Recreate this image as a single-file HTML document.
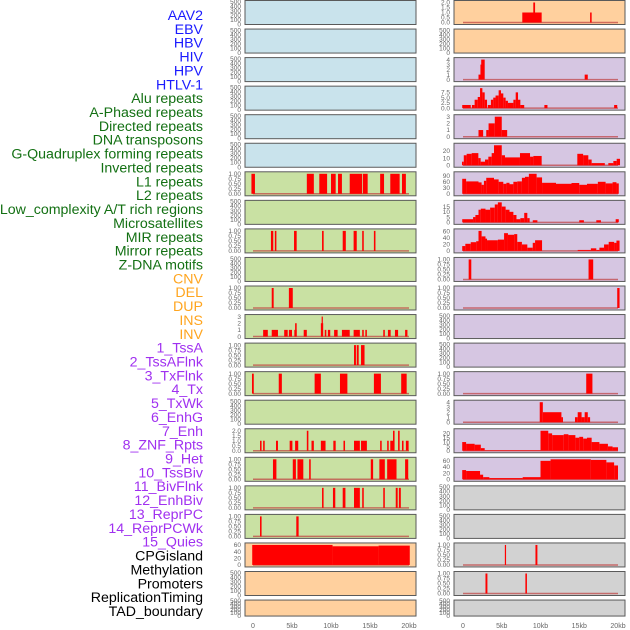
<!DOCTYPE html>
<html><head><meta charset="utf-8">
<style>
html,body{margin:0;padding:0;background:#fff;width:630px;height:630px;overflow:hidden}
svg{display:block}
</style></head>
<body>
<svg id="chart" width="630" height="630" xmlns="http://www.w3.org/2000/svg" font-family="Liberation Sans, sans-serif"></svg>
<script>
const trackLabels = ["AAV2","EBV","HBV","HIV","HPV","HTLV-1","Alu repeats","A-Phased repeats","Directed repeats","DNA transposons","G-Quadruplex forming repeats","Inverted repeats","L1 repeats","L2 repeats","Low_complexity A/T rich regions","Microsatellites","MIR repeats","Mirror repeats","Z-DNA motifs","CNV","DEL","DUP","INS","INV","1_TssA","2_TssAFlnk","3_TxFlnk","4_Tx","5_TxWk","6_EnhG","7_Enh","8_ZNF_Rpts","9_Het","10_TssBiv","11_BivFlnk","12_EnhBiv","13_ReprPC","14_ReprPCWk","15_Quies","CPGisland","Methylation","Promoters","ReplicationTiming","TAD_boundary"];
const labelGroups = [6,13,5,15,5];
const groupColors = ["#1a1aff","#137013","#ffa51f","#a030f0","#000000"];
const xTickValues = [0,5,10,15,20];
const xTickLabels = ["0","5kb","10kb","15kb","20kb"];

// segments: [startKb, endKb, value]
const leftL1 = [[-0.2,0.25,1],[6.9,7.8,1],[8.5,9.5,1],[10,10.6,1],[10.9,11.4,1],[12.4,14,1],[14.1,14.7,1],[16.3,16.8,1],[17.6,18.8,1],[19.1,19.6,1]];
const leftMIR = [[2.3,2.6,1],[2.8,3.0,1],[5.26,5.6,1],[8.85,9.06,1],[11.5,11.9,1],[12.9,13.3,1],[14,14.2,1],[15.5,15.7,1]];
const leftZDNA = [[2.4,2.65,1],[4.6,5.1,1]];
const leftDEL = [[1.3,1.9,1],[2.4,3.2,1],[4,4.45,1],[4.6,5,1],[5.3,5.6,1],[5.4,5.6,2],[6.5,6.9,1],[8.7,9.0,2],[8.8,8.9,3],[9.2,9.4,1],[9.6,9.9,1],[10.4,10.85,1],[11.4,12.4,1],[12.9,13.7,1],[14,14.2,1],[14.4,14.6,1],[16.7,16.9,1],[17.3,17.65,1],[18.2,18.6,1],[19.5,19.8,1]];
const leftINS = [[12.95,13.2,1],[13.3,13.55,1],[13.85,14.3,1]];
const leftINV = [[-0.13,0.1,1],[3.3,3.7,1],[7.9,8.7,1],[11.15,12.1,1],[15.5,16.4,1],[19,19.7,1]];
const leftTxFlnk = [[0.9,1.1,1],[1.3,1.5,1],[2.95,3.2,1],[4.7,5.05,1],[5.4,5.8,1],[6.9,7.1,2],[7.5,7.8,1],[8.7,9.3,1],[10.3,10.6,1],[11.6,11.8,1],[12.95,13.7,1],[13.85,14.6,1],[16.3,16.5,1],[17.2,17.4,1],[17.6,18.1,1],[17.95,18.15,2],[18.6,18.8,2],[19.1,19.3,1],[19.6,19.95,1]];
const leftTx = [[2.56,3.0,1],[5.1,5.5,1],[5.7,6.45,1],[7.2,7.4,1],[15.1,15.4,1],[16.2,16.9,1],[17.2,18.4,1],[19.5,19.9,1]];
const leftTxWk = [[8.85,9.05,1],[10.25,10.55,1],[11.5,11.85,1],[12.95,13.7,1],[14,14.2,1],[16.7,16.9,1],[18.3,18.55,1],[18.7,18.95,1]];
const leftEnhG = [[0.9,1.1,1],[5.55,5.85,1]];
const leftCPG = [[-0.1,10.2,60],[10.2,16.1,56],[16.1,20.1,58]];

const rightAAV2 = [[7.65,10.15,1],[9.07,9.3,2],[16.4,16.6,1]];
const rightHIV = [[2.0,2.3,1],[2.25,2.45,3],[2.35,2.8,4],[15.7,16.1,1]];
const rightHPV = [[-0.1,1.0,1.5],[1.15,1.5,1.5],[1.5,1.9,4],[1.9,2.2,5.3],[2.2,2.5,9.5],[2.5,2.8,7.5],[2.8,3.1,4],[3.2,3.6,1.5],[3.6,3.9,4],[3.9,4.2,5],[4.2,4.6,6],[4.6,4.9,8.5],[4.9,5.2,7],[5.2,5.5,5],[5.5,5.8,3.5],[5.8,6.5,2.5],[6.5,6.8,4],[6.8,7.1,7.5],[7.1,7.4,4],[7.4,7.9,1.5],[10.5,10.9,1.5],[19.5,19.9,1.5]];
const rightHTLV = [[2.0,2.6,1],[3.0,3.3,1],[3.3,4.1,2],[4.1,5.0,3],[5.0,5.7,1]];
const rightAPhased = [[-0.13,0.1,5],[0.1,0.47,14],[0.47,1.12,16],[1.12,1.98,17],[1.98,2.28,10],[2.28,2.84,5],[2.84,3.27,8],[3.27,3.7,12],[3.7,4.0,17],[4.0,5.0,28],[5.0,5.42,14],[5.42,7.35,11],[7.35,8.65,17],[8.65,9.08,12],[9.08,10.15,13],[14.75,15.5,16],[15.5,16.17,14],[16.17,16.6,8],[16.6,18.3,3],[18.75,19.4,3],[19.4,19.83,6],[19.83,20.26,9]];
const rightDirected = [[-0.1,0.4,75],[0.4,2.0,62],[2.0,2.4,57],[2.4,2.7,45],[2.7,3.0,65],[3.0,4.0,80],[4.0,4.6,72],[4.6,5.2,60],[5.2,5.6,50],[5.6,6.0,55],[6.0,6.5,48],[6.5,7.0,60],[7.0,7.6,62],[7.6,8.0,80],[8.0,8.5,85],[8.5,9.5,100],[9.5,10.2,82],[10.2,12.0,55],[12.0,14.0,50],[14.0,15.0,54],[15.0,16.0,45],[16.0,17.4,50],[17.4,18.4,60],[18.4,19.3,52],[19.3,19.8,58],[19.8,20.1,52]];
const rightDNA = [[-0.1,1.3,3],[1.3,1.6,5],[1.6,2.0,7],[2.0,2.3,12],[2.3,2.9,13],[2.9,3.5,12],[3.5,4.1,14],[4.1,4.5,17],[4.5,5.0,19],[5.0,5.5,15],[5.5,6.0,12],[6.0,6.5,10],[6.5,6.9,7],[6.9,7.4,3],[7.4,7.9,4],[7.9,8.3,9],[8.3,8.6,4],[9.0,9.6,2],[15.0,15.6,2],[17.2,17.8,2],[19.7,20.1,3]];
const rightGQuad = [[-0.1,0.3,15],[0.3,1.0,22],[1.0,1.7,27],[1.7,2.0,30],[2.0,2.4,62],[2.4,2.9,45],[2.9,3.1,38],[3.1,4.5,33],[4.5,5.3,35],[5.3,5.8,55],[5.8,6.6,50],[6.6,7.0,52],[7.0,7.6,28],[7.6,8.3,20],[8.3,9.0,10],[9.0,9.3,25],[9.3,10.2,33],[14.8,16.5,3],[16.5,17.2,8],[17.2,17.6,3],[17.6,18.2,10],[18.2,18.8,20],[18.8,19.5,28],[19.5,19.8,25],[19.8,20.2,32]];
const rightInverted = [[0.73,1.07,1],[16.2,16.8,1]];
const rightL1 = [[19.9,20.2,1]];
const rightMicro = [[15.9,16.7,1]];
const rightMIR = [[9.9,10.3,4],[10.3,12.7,2],[12.7,12.9,1],[14.45,14.8,1],[14.8,15.3,2],[15.3,15.7,1],[15.7,16.1,2],[16.1,16.4,1]];
const rightMirror = [[-0.1,0.4,10],[0.4,1.5,8],[1.5,2.3,7],[2.3,2.8,3],[2.8,10,0.6],[10,11,23],[11,11.5,20],[11.5,13.0,18],[13,13.6,19],[13.6,14.5,18],[14.5,15,15],[15,15.5,16],[15.5,16,14],[16,16.6,15],[16.6,17.6,10],[17.6,18.7,8],[18.7,19.3,5],[19.3,20,4]];
const rightZDNA = [[-0.1,0.4,30],[0.4,2.2,27],[2.2,2.6,15],[2.6,3.4,7],[3.4,7.7,4],[7.7,10,7],[10,11.3,60],[11.3,16.5,65],[16.5,18.5,63],[18.5,19.5,55],[19.5,20,45]];
const rightCPG = [[5.4,5.55,1],[9.35,9.6,1]];
const rightMeth = [[2.9,3.15,1],[8.05,8.25,1]];

const ticksEmpty = ["0","100","200","300","400","500"];
const ticksUnit = [0,0.25,0.5,0.75,1];
const labUnit = ["0.00","0.25","0.50","0.75","1.00"];

const B="#c9e3ec",G="#c9e1a3",O="#ffd09e",P="#d6c6e2",Y="#d2d2d2";
// column, row, bg, segments, ymax, tick values, tick labels
const panelList = [
 ["L",0,B,null],["L",1,B,null],["L",2,B,null],["L",3,B,null],["L",4,B,null],["L",5,B,null],
 ["L",6,G,leftL1,1,ticksUnit,labUnit],["L",7,G,null],["L",8,G,leftMIR,1,ticksUnit,labUnit],["L",9,G,null],
 ["L",10,G,leftZDNA,1,ticksUnit,labUnit],["L",11,G,leftDEL,3,[0,1,2,3],["0","1","2","3"]],
 ["L",12,G,leftINS,1,ticksUnit,labUnit],["L",13,G,leftINV,1,ticksUnit,labUnit],["L",14,G,null],
 ["L",15,G,leftTxFlnk,2,[0,0.5,1,1.5,2],["0.0","0.5","1.0","1.5","2.0"]],
 ["L",16,G,leftTx,1,ticksUnit,labUnit],["L",17,G,leftTxWk,1,ticksUnit,labUnit],["L",18,G,leftEnhG,1,ticksUnit,labUnit],
 ["L",19,O,leftCPG,60,[0,20,40,60],["0","20","40","60"]],["L",20,O,null],["L",21,O,null],
 ["R",0,O,rightAAV2,2,[0,0.5,1,1.5,2],["0.0","0.5","1.0","1.5","2.0"]],["R",1,O,null],
 ["R",2,P,rightHIV,4,[0,1,2,3,4],["0","1","2","3","4"]],
 ["R",3,P,rightHPV,9.5,[0,2.5,5,7.5],["0.0","2.5","5.0","7.5"]],
 ["R",4,P,rightHTLV,3,[0,1,2,3],["0","1","2","3"]],
 ["R",5,P,rightAPhased,28,[0,10,20],["0","10","20"]],
 ["R",6,P,rightDirected,100,[0,30,60,90],["0","30","60","90"]],
 ["R",7,P,rightDNA,19,[0,5,10,15],["0","5","10","15"]],
 ["R",8,P,rightGQuad,62,[0,20,40,60],["0","20","40","60"]],
 ["R",9,P,rightInverted,1,ticksUnit,labUnit],["R",10,P,rightL1,1,ticksUnit,labUnit],
 ["R",11,P,null],["R",12,P,null],["R",13,P,rightMicro,1,ticksUnit,labUnit],
 ["R",14,P,rightMIR,4,[0,1,2,3,4],["0","1","2","3","4"]],
 ["R",15,P,rightMirror,23,[0,5,10,15,20],["0","5","10","15","20"]],
 ["R",16,P,rightZDNA,65,[0,20,40,60],["0","20","40","60"]],
 ["R",17,Y,null],["R",18,Y,null],["R",19,Y,rightCPG,1,ticksUnit,labUnit],["R",20,Y,rightMeth,1,ticksUnit,labUnit],["R",21,Y,null]
];

const NS="http://www.w3.org/2000/svg";
const svg=document.getElementById('chart');
function mk(tag,attrs,parent){const e=document.createElementNS(NS,tag);for(const k in attrs)e.setAttribute(k,attrs[k]);(parent||svg).appendChild(e);return e;}

let li=0;
labelGroups.forEach((n,gi)=>{for(let k=0;k<n;k++){const y=15+li*13.86;
  const t=mk('text',{x:203,y:y+5,'text-anchor':'end','font-size':14.2,fill:groupColors[gi]});
  t.textContent=trackLabels[li];
  
  
  li++;}});

const cols={L:{x0:245,x1:416,z:253,s:7.8},R:{x0:454,x1:625,z:463,s:7.75}};
function panelTop(r){return 0.5+r*28.55;}
function panelH(r){return r===21?16:24;}

panelList.forEach(p=>{
  const [c,r,bg,segs,ymax,tv,tl]=p; const C=cols[c];
  const top=panelTop(r),h=panelH(r),bot=top+h;
  const g=mk('g',{});
  
  
  mk('rect',{x:C.x0,y:top,width:C.x1-C.x0,height:h,fill:bg,stroke:'#5a5a5a','stroke-width':1},g);
  const xs=v=>C.z+v*C.s;
  const ys=v=>bot-2-(v/ymax)*(h-4);
  if(!segs){
    ticksEmpty.forEach((lab,i)=>{const y=bot-i*(h/5.3);
      const t=mk('text',{x:C.x0-4,y:y+2,'text-anchor':'end','font-size':6.5,fill:'#666'},g);t.textContent=lab;});
    return;
  }
  tv.forEach((v,i)=>{const t=mk('text',{x:C.x0-4,y:ys(v)+2.2,'text-anchor':'end','font-size':6.5,fill:'#666'},g);t.textContent=tl[i];});
  mk('line',{x1:xs(0),x2:xs(20),y1:ys(0),y2:ys(0),stroke:'#c04040','stroke-width':1.5,opacity:0.7},g);
  segs.forEach(s=>{
    const x=xs(s[0]),w=Math.max(1.2,xs(s[1])-x),y=ys(s[2]);
    const b=mk('rect',{x:x,y:y,width:w,height:ys(0)-y,fill:'#ff0000'},g);
    
    
  });
});

['L','R'].forEach(c=>{const C=cols[c];
  xTickValues.forEach((v,i)=>{const t=mk('text',{x:C.z+v*C.s,y:628,'text-anchor':'middle','font-size':7,fill:'#666'});
    t.textContent=xTickLabels[i];
    
    });
});
</script>
</body></html>
